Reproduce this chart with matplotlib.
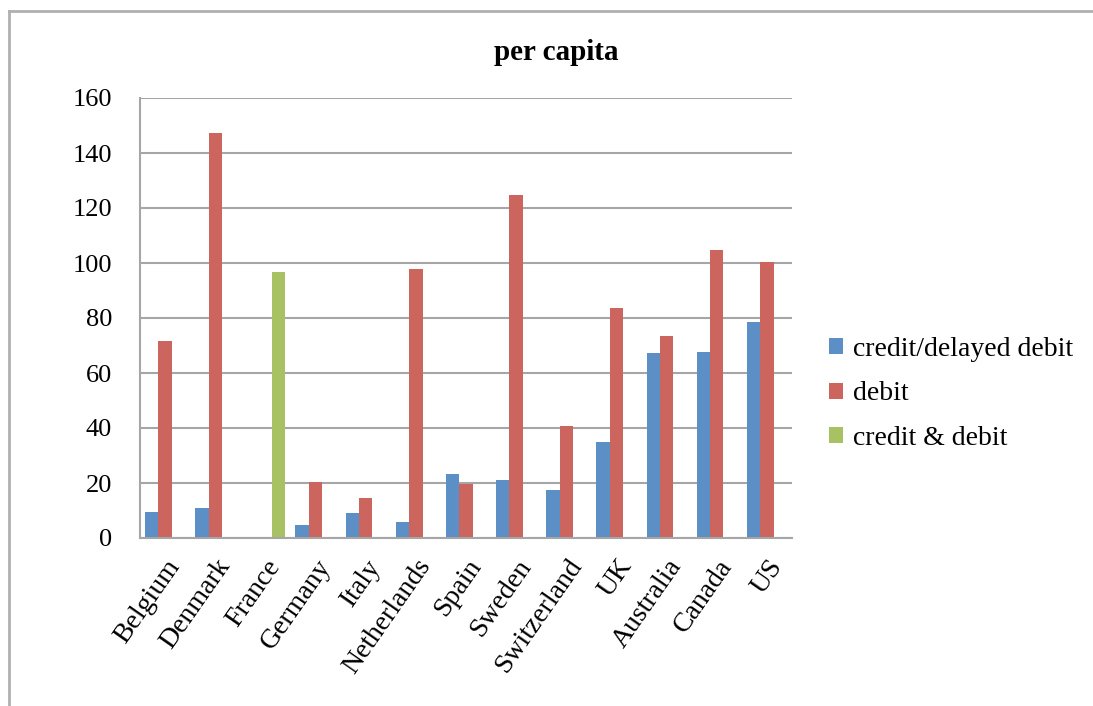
import numpy as np
import matplotlib.pyplot as plt
from matplotlib.lines import Line2D

countries = ['Belgium', 'Denmark', 'France', 'Germany', 'Italy', 'Netherlands',
             'Spain', 'Sweden', 'Switzerland', 'UK', 'Australia', 'Canada', 'US']
credit_delayed = [9.3, 11.0, np.nan, 4.7, 9.0, 5.7, 23.4, 21.1, 17.5, 35.0, 67.3, 67.5, 78.4]
debit = [71.6, 147.2, np.nan, 20.2, 14.4, 98.0, 19.5, 124.7, 40.8, 83.5, 73.6, 104.6, 100.2]
credit_and_debit = [np.nan, np.nan, 96.8, np.nan, np.nan, np.nan, np.nan,
                    np.nan, np.nan, np.nan, np.nan, np.nan, np.nan]

plt.rcParams['font.family'] = 'Liberation Serif'

fig = plt.figure(figsize=(10.93, 7.06), dpi=100)
ax = fig.add_axes([140 / 1093, 1 - 538 / 706, 652 / 1093, 440 / 706])

x = np.arange(len(countries))
w = 0.267
ax.bar(x - w, credit_delayed, w, color='#5b8fc6', label='credit/delayed debit')
ax.bar(x, debit, w, color='#cb655d', label='debit')
ax.bar(x + w, credit_and_debit, w, color='#a8c163', label='credit & debit')

ax.set_xlim(-0.5, len(countries) - 0.5)
ax.set_ylim(0, 160)
ax.set_yticks(range(0, 161, 20))
ax.yaxis.grid(True, color='#a6a6a6', linewidth=1.5)
ax.set_axisbelow(True)
for s in ['top', 'right']:
    ax.spines[s].set_visible(False)
for s in ['left', 'bottom']:
    ax.spines[s].set_color('#a6a6a6')
    ax.spines[s].set_linewidth(1.5)
ax.tick_params(length=0, labelsize=19)
ax.tick_params(axis='y', pad=20)
ax.set_xticks(x)
ax.set_xticklabels(countries, rotation=55, ha='right', rotation_mode='anchor',
                   fontsize=20)
ax.tick_params(axis='x', pad=12)

fig.text(556 / 1093, 1 - 52 / 706, 'per capita', ha='center', va='center',
         fontsize=21, fontweight='bold')

ax.legend(loc='center left', bbox_to_anchor=(678 / 652, (538 - 394) / 440),
          frameon=False, fontsize=20, handlelength=0.5, handleheight=0.5,
          handletextpad=0.35, labelspacing=0.7, borderaxespad=0)

# outer chart border (left and top edges)
fig.add_artist(Line2D([9 / 1093, 9 / 1093], [0, 1 - 11 / 706], color='#b0b0b0', lw=2))
fig.add_artist(Line2D([9 / 1093, 1], [1 - 11 / 706, 1 - 11 / 706], color='#b0b0b0', lw=2))

fig.savefig('out.png', dpi=100)
